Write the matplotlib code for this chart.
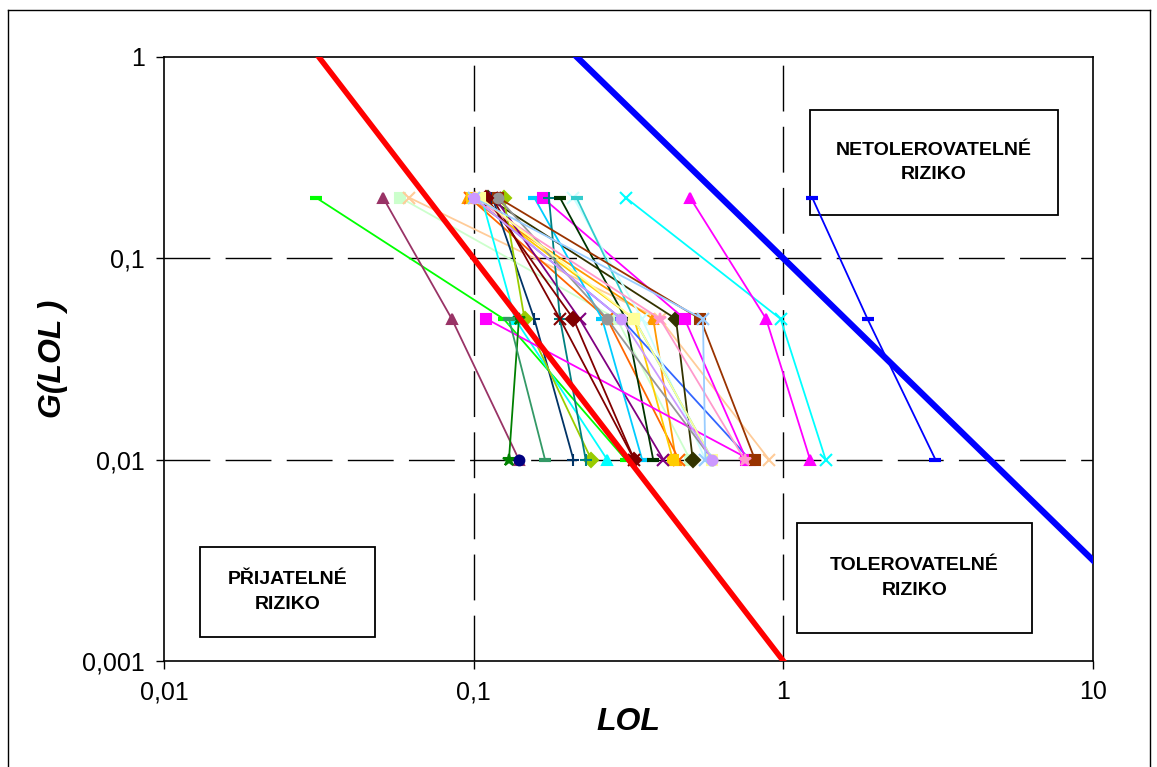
import numpy as np
import matplotlib.pyplot as plt
from matplotlib.lines import Line2D
from matplotlib.ticker import FixedLocator, FixedFormatter, NullLocator

plt.rcParams['font.family'] = ['Liberation Sans', 'DejaVu Sans']

## G(LOL) levels of the three points of every series
g_levels = [0.2, 0.05, 0.01]

## LOL, one entry per series (nan = hidden / not visible)
nan = np.nan
lol_g02 = [0.031, 0.051, 0.058, 0.062, 0.096, 0.097, 0.099, 0.100, 0.106, 0.111,
           0.117, 0.115, 0.125, 0.157, 0.167, 0.175, 0.190, 0.210, 0.215, 0.310,
           0.500, 1.240, nan, 0.120, 0.115, 0.120, 0.100, 0.110, 0.105, nan,
           nan, nan, 0.100, 0.100]
lol_g005 = [0.125, 0.085, 0.290, 0.400, 0.380, 0.270, 0.330, 0.300, 0.136, 0.450,
            0.220, 0.157, 0.146, 0.260, 0.480, 0.190, 0.310, 0.350, 0.330, 0.980,
            0.880, 1.870, 0.110, 0.540, 0.190, 0.270, 0.400, 0.210, 0.330, 0.140,
            nan, 0.130, 0.550, 0.300]
lol_g001 = [0.310, 0.140, 0.500, 0.900, 0.450, 0.460, 0.440, 0.780, 0.270, 0.510,
            0.410, 0.210, 0.240, 0.350, 0.760, 0.230, 0.380, 0.560, 0.590, 1.370,
            1.220, 3.100, 0.780, 0.810, 0.330, 0.590, 0.750, 0.330, 0.590, 0.130,
            0.140, 0.170, 0.560, 0.590]

series_colors = ['#00FF00', '#993366', '#CCFFCC', '#FFCC99', '#FF9900', '#FF6600',
                 '#FFCC00', '#3366FF', '#00FFFF', '#333300', '#800080', '#003366',
                 '#99CC00', '#00CCFF', '#FF00FF', '#008080', '#003300', '#CCFFFF',
                 '#33CCCC', '#00FFFF', '#FF00FF', '#0000FF', '#FF00FF', '#993300',
                 '#800000', '#969696', '#FF99CC', '#800000', '#FFFF99', '#008000',
                 '#000080', '#339966', '#99CCFF', '#CC99FF']
series_markers = ['_', '^', 's', 'x', '^', 'x', 's', '_', '^', 'D',
                  'x', '+', 'D', '_', 's', '+', '_', 'x', '_', 'x',
                  '^', '_', 's', 's', 'x', 'o', '*', 'D', 's', '*',
                  'o', '_', 'x', 'o']

## risk limit lines G = a * LOL^b
lol_line = np.array([0.01, 10.0])
red_a, red_b = 0.001, -2.0
blue_a, blue_b = 0.1, -1.5

W, H = 1157, 767
fig = plt.figure(figsize=(11.57, 7.67), dpi=100)
ax = fig.add_axes([164/W, 1-661/H, (1093-164)/W, (661-57)/H])
ax.set_xscale('log')
ax.set_yscale('log')
ax.set_xlim(0.01, 10)
ax.set_ylim(0.001, 1)

## grid
for v in [0.1, 1]:
    ax.plot([v, v], [0.001, 1], color='black', lw=1, dashes=(33, 11), zorder=1)
for v in [0.1, 0.01]:
    ax.plot([0.01, 10], [v, v], color='black', lw=1, dashes=(33, 11), zorder=1)

## region boxes (behind the series, text on top)
boxes = [
    ('NETOLEROVATELNÉ\nRIZIKO', (810, 110, 1058, 215)),
    ('TOLEROVATELNÉ\nRIZIKO', (797, 523, 1032, 633)),
    ('PŘIJATELNÉ\nRIZIKO', (200, 547, 375, 637)),
]
for txt, (x0, y0, x1, y1) in boxes:
    rect = plt.Rectangle((x0/W, 1-y1/H), (x1-x0)/W, (y1-y0)/H, transform=fig.transFigure,
                         facecolor='white', edgecolor='black', lw=1.3, zorder=2,
                         clip_on=False)
    ax.add_patch(rect)
    fig.text((x0+x1)/2/W, 1-(y0+y1)/2/H, txt, ha='center', va='center',
             fontsize=14, fontweight='bold', linespacing=1.6, zorder=6)

## series
for i in range(len(series_colors)):
    xs = [lol_g02[i], lol_g005[i], lol_g001[i]]
    c = series_colors[i]
    m = series_markers[i]
    ms = 7
    mew = 1.5
    if m == '_':
        ms, mew = 8, 3
    if m in ('x', '+', '*'):
        ms = 9
    ax.plot(xs, g_levels, color=c, lw=1.3, marker=m, ms=ms, mew=mew,
            mfc=c, mec=c, zorder=3)

## limit lines
ax.plot(lol_line, red_a * lol_line ** red_b, color='#FF0000', lw=4, zorder=4)
ax.plot(lol_line, blue_a * lol_line ** blue_b, color='#0000FF', lw=4.5, zorder=4)

## ticks
ax.xaxis.set_major_locator(FixedLocator([0.01, 0.1, 1, 10]))
ax.xaxis.set_major_formatter(FixedFormatter(['0,01', '0,1', '1', '10']))
ax.yaxis.set_major_locator(FixedLocator([0.001, 0.01, 0.1, 1]))
ax.yaxis.set_major_formatter(FixedFormatter(['0,001', '0,01', '0,1', '1']))
ax.xaxis.set_minor_locator(NullLocator())
ax.yaxis.set_minor_locator(NullLocator())
ax.tick_params(axis='both', which='major', direction='out', length=6, width=1,
               labelsize=18, pad=8)
for sp in ax.spines.values():
    sp.set_linewidth(1.2)

ax.set_xlabel('LOL', fontsize=23, fontweight='bold', fontstyle='italic', labelpad=2)
ax.set_ylabel('G(LOL )', fontsize=23, fontweight='bold', fontstyle='italic', labelpad=10)

## outer frame of the chart (open at the bottom)
for xs, ys in [([8, 8], [10, 767]), ([8, 1150], [10, 10]), ([1150, 1150], [10, 767])]:
    fig.add_artist(Line2D([x/W for x in xs], [1-y/H for y in ys], color='black', lw=1))

fig.savefig('out.png', dpi=100)
